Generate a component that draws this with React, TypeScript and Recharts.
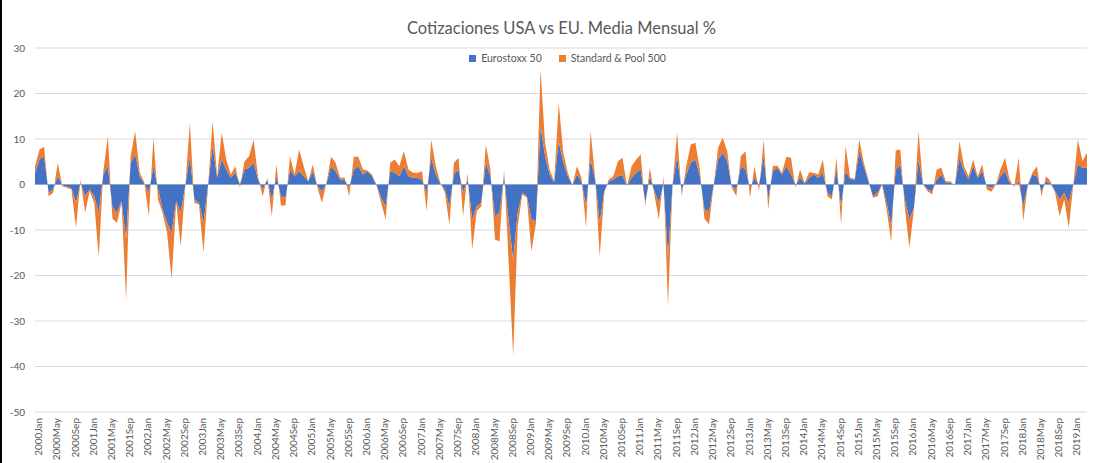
import React from "react";
import { AreaChart, Area, XAxis, YAxis, CartesianGrid } from "recharts";

const years = Array.from({ length: 20 }, (_, i) => 2000 + i);
const monthNames = ["Jan", "Feb", "Mar", "Apr", "May", "Jun", "Jul", "Aug", "Sep", "Oct", "Nov", "Dec"];
const lastMonthCount = 232;

// Eurostoxx 50 monthly values (%)
const eurostoxx: number[] = [
  2.6, 5.5, 6.2, -1.8, -1.0, 1.8, -0.2, -0.5, -0.8, -4.0, 0.4, -2.6,
  -1.1, -2.6, -6.2, 2.2, 4.0, -5.0, -6.2, -3.7, -12.0, 4.8, 6.6, 1.8,
  0.2, -1.8, 4.0, -0.8, -5.5, -8.4, -10.6, -3.7, -6.2, -0.3, 6.2, -3.3,
  -4.0, -8.4, -0.3, 8.4, 1.5, 5.5, 3.3, 1.5, 2.6, 0.0, 3.3, 3.7,
  4.8, 1.1, -1.1, 1.1, -3.3, 1.8, -2.6, -2.9, 3.3, 1.8, 2.9, 1.8,
  0.7, 2.9, -0.3, -1.5, 0.2, 4.0, 2.9, 1.1, 1.0, -0.7, 3.3, 4.0,
  2.2, 2.9, 1.8, -0.1, -2.9, -4.8, 2.9, 2.6, 1.8, 4.0, 1.8, 1.5,
  1.5, 1.0, -1.8, 5.9, 2.2, 0.2, -1.1, -4.8, 2.2, 3.3, -1.8, 1.1,
  -7.7, -4.8, -4.0, 4.8, 1.8, -7.0, -6.2, 1.8, -8.0, -16.5, -6.2, -1.8,
  -2.6, -7.7, -8.0, 12.8, 6.2, 2.2, 0.5, 9.5, 4.8, 1.8, -0.1, 2.2,
  0.7, -4.8, 5.5, 1.1, -8.4, -1.5, 0.7, 1.1, 1.8, 2.0, -0.3, 1.5,
  2.6, 3.3, -4.0, 1.8, -1.5, -4.0, 0.1, -15.8, 0.0, 6.2, -1.5, 2.2,
  4.8, 5.5, 1.8, -5.5, -5.9, -0.3, 5.5, 7.0, 5.1, -0.4, -1.1, 4.0,
  3.3, -0.7, 1.5, -0.1, 6.2, -3.3, 2.9, 3.7, 2.2, 4.0, 2.2, -0.1,
  1.5, 0.2, 1.5, 2.2, 1.5, 2.6, -1.8, -2.6, 3.3, -4.8, 2.9, 1.2,
  1.1, 7.3, 4.0, 0.7, -2.6, -1.8, 0.0, -4.0, -9.2, 3.3, 4.4, -3.3,
  -7.7, -5.1, 5.5, 0.0, -1.1, -1.5, 1.1, 2.2, 0.5, 0.4, -0.1, 5.9,
  2.9, 1.1, 4.0, 1.5, 2.9, -0.4, -0.7, 0.0, 1.8, 2.9, 0.4, -0.3,
  0.7, -4.8, -0.2, 2.2, 1.8, -1.5, 0.7, 0.2, -1.5, -3.3, -1.8, -4.0,
  0.0, 4.4, 3.7, 3.7,
];

// Standard & Pool 500 monthly values (%)
const sp500: number[] = [
  1.4, 2.2, 2.1, -0.8, -0.8, 3.0, -0.2, -0.2, -0.3, -5.5, 0.7, -3.6,
  -0.4, -1.4, -9.8, 0.7, 6.6, -2.5, -2.2, -0.3, -13.3, 1.4, 5.1, 0.8,
  0.3, -5.2, 6.3, -2.5, -0.7, -2.2, -10.3, -0.3, -7.3, -0.1, 7.3, -0.7,
  -0.4, -6.6, -0.1, 5.5, 0.3, 5.9, 2.2, 0.7, 1.4, -0.7, 1.8, 2.5,
  5.1, 0.4, -1.5, 0.4, -3.7, 2.6, -2.0, -1.7, 2.9, 0.4, 4.8, 2.2,
  0.0, 1.5, -0.3, -2.5, 0.1, 2.1, 1.9, 0.4, 0.5, -1.9, 2.8, 2.1,
  1.1, 0.2, 0.4, -0.1, -1.1, -2.9, 1.9, 2.9, 2.2, 3.3, 1.5, 1.1,
  1.1, 1.9, -4.1, 4.0, 1.8, 0.2, -0.7, -4.0, 2.6, 2.6, -5.2, 1.5,
  -6.6, -1.1, -0.8, 4.0, 1.5, -5.1, -6.3, 1.5, -9.0, -21.2, -3.0, -0.4,
  -0.3, -7.0, -0.5, 12.5, 3.0, 1.1, 0.2, 8.4, 2.2, 0.8, -0.1, 1.8,
  0.8, -4.7, 6.2, 0.4, -7.4, -0.3, 0.4, 0.7, 3.3, 3.9, -0.1, 2.5,
  2.9, 3.3, -0.8, 1.9, -0.7, -3.7, 1.7, -10.9, 0.0, 5.2, -1.1, 1.8,
  4.0, 3.7, 1.5, -2.0, -2.9, -0.1, 2.6, 3.3, 2.2, -0.3, -1.5, 2.2,
  4.0, -2.2, 2.5, -1.4, 3.7, -2.2, 1.1, 0.5, 0.4, 2.1, 3.7, -0.6,
  1.8, 0.2, 1.2, 0.4, 0.7, 2.9, -0.8, -0.7, 2.6, -4.0, 5.5, 0.3,
  0.1, 2.6, 0.8, 0.4, -0.3, -0.8, 0.0, -1.5, -3.3, 4.2, 3.3, -1.8,
  -6.2, -0.4, 6.2, 0.0, -0.4, -0.7, 2.2, 1.5, 0.2, 0.3, -0.1, 3.6,
  1.1, 0.7, 1.5, 0.3, 1.5, -0.7, -0.9, 0.0, 1.5, 3.0, 0.7, -0.3,
  5.2, -3.3, 0.2, 0.4, 2.2, -1.1, 1.1, 0.5, -0.3, -3.7, -1.5, -5.5,
  0.0, 5.5, 1.4, 3.3,
];

const yTicks = [-50, -40, -30, -20, -10, 0, 10, 20, 30];

const categories: string[] = [];
for (const y of years) {
  for (const m of monthNames) {
    if (categories.length < lastMonthCount) categories.push(`${y}${m}`);
  }
}

const data = categories.map((c, i) => ({
  month: c,
  eu: eurostoxx[i],
  us: sp500[i],
}));

const FONT = "Lato, 'Open Sans', sans-serif";
const BLUE = "#4472C4";
const ORANGE = "#ED7D31";

export default function App() {
  return (
    <div
      style={{
        position: "absolute",
        left: 0,
        top: 0,
        width: 1115,
        height: 463,
        background: "#fff",
        overflow: "hidden",
        fontFamily: FONT,
      }}
    >
      <div
        style={{
          position: "absolute",
          left: 4,
          width: 1115,
          top: 18,
          textAlign: "center",
          fontSize: 16.5,
          color: "#595959",
        }}
      >
        Cotizaciones USA vs EU. Media Mensual %
      </div>
      <div
        style={{
          position: "absolute",
          left: 10,
          width: 1115,
          top: 52,
          display: "flex",
          justifyContent: "center",
          alignItems: "center",
          fontSize: 10.5,
          color: "#595959",
        }}
      >
        <span style={{ display: "inline-block", width: 7, height: 7, background: BLUE, marginRight: 5 }} />
        <span style={{ marginRight: 17 }}>Eurostoxx 50</span>
        <span style={{ display: "inline-block", width: 7, height: 7, background: ORANGE, marginRight: 5 }} />
        <span>Standard &amp; Pool 500</span>
      </div>
      <AreaChart
        width={1115}
        height={463}
        data={data}
        margin={{ top: 48, right: 28, bottom: 0, left: 0 }}
        style={{ position: "absolute", left: 0, top: 0 }}
      >
        <CartesianGrid vertical={false} stroke="#D9D9D9" strokeWidth={1} />
        <XAxis
          dataKey="month"
          interval={3}
          angle={-90}
          textAnchor="end"
          height={51}
          tickSize={0}
          tickMargin={6}
          axisLine={false}
          tick={{ fontSize: 10, fill: "#595959", fontFamily: FONT }}
        />
        <YAxis
          domain={[-50, 30]}
          ticks={yTicks}
          width={35}
          axisLine={false}
          tickLine={false}
          tickSize={6}
          tickMargin={4}
          interval={0}
          tick={{ fontSize: 10, fill: "#595959", fontFamily: FONT }}
        />
        <Area
          type="linear"
          dataKey="eu"
          stackId="a"
          stroke="none"
          fill={BLUE}
          fillOpacity={1}
          isAnimationActive={false}
        />
        <Area
          type="linear"
          dataKey="us"
          stackId="a"
          stroke="none"
          fill={ORANGE}
          fillOpacity={1}
          isAnimationActive={false}
        />
      </AreaChart>
      <div
        style={{
          position: "absolute",
          left: 0,
          top: 0,
          width: 2,
          height: 463,
          background: "#000",
        }}
      />
    </div>
  );
}
